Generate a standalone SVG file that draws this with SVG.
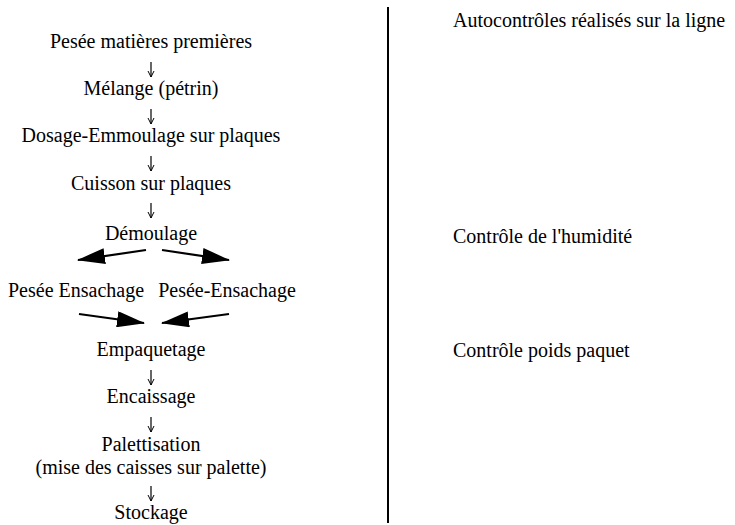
<svg xmlns="http://www.w3.org/2000/svg" width="735" height="525" viewBox="0 0 735 525">
<defs>
<marker id="sm" viewBox="0 0 8 8" refX="7" refY="4" markerWidth="8" markerHeight="8" markerUnits="userSpaceOnUse" orient="auto"><path d="M1,1 L7,4 L1,7" fill="none" stroke="#000" stroke-width="1"/></marker>
<marker id="big" viewBox="0 0 28 16" refX="27" refY="8" markerWidth="28" markerHeight="16" markerUnits="userSpaceOnUse" orient="auto"><path d="M0,0 L28,8 L0,16 Z" fill="#000"/></marker>
</defs>
<rect width="735" height="525" fill="#fff"/>
<g id="connectors" fill="none" stroke="#000">
<g stroke-width="1.2">
<line x1="151" y1="62" x2="151" y2="77" marker-end="url(#sm)"/>
<line x1="151" y1="109" x2="151" y2="124" marker-end="url(#sm)"/>
<line x1="151" y1="156" x2="151" y2="171" marker-end="url(#sm)"/>
<line x1="151" y1="203" x2="151" y2="218" marker-end="url(#sm)"/>
<line x1="151" y1="370" x2="151" y2="385" marker-end="url(#sm)"/>
<line x1="151" y1="417" x2="151" y2="432" marker-end="url(#sm)"/>
<line x1="151" y1="486" x2="151" y2="501" marker-end="url(#sm)"/>
</g>
<g stroke-width="2.2">
<line x1="146" y1="250" x2="78" y2="260" marker-end="url(#big)"/>
<line x1="162" y1="250" x2="229" y2="260" marker-end="url(#big)"/>
<line x1="79" y1="314" x2="144" y2="323" marker-end="url(#big)"/>
<line x1="229" y1="314" x2="162" y2="323" marker-end="url(#big)"/>
</g>
</g>
<g id="divider"><line x1="388" y1="7" x2="388" y2="523" stroke="#000" stroke-width="2"/></g>
<g id="n1"><text x="151" y="48" text-anchor="middle" font-family="'Liberation Serif', serif" font-size="20">Pesée matières premières</text></g>
<g id="n2"><text x="151" y="95" text-anchor="middle" font-family="'Liberation Serif', serif" font-size="20">Mélange (pétrin)</text></g>
<g id="n3"><text x="151" y="142" text-anchor="middle" font-family="'Liberation Serif', serif" font-size="20">Dosage-Emmoulage sur plaques</text></g>
<g id="n4"><text x="151" y="190" text-anchor="middle" font-family="'Liberation Serif', serif" font-size="20">Cuisson sur plaques</text></g>
<g id="n5"><text x="151" y="240" text-anchor="middle" font-family="'Liberation Serif', serif" font-size="20">Démoulage</text></g>
<g id="n6"><text x="76" y="297" text-anchor="middle" font-family="'Liberation Serif', serif" font-size="20">Pesée Ensachage</text></g>
<g id="n7"><text x="227" y="297" text-anchor="middle" font-family="'Liberation Serif', serif" font-size="20">Pesée-Ensachage</text></g>
<g id="n8"><text x="151" y="356" text-anchor="middle" font-family="'Liberation Serif', serif" font-size="20">Empaquetage</text></g>
<g id="n9"><text x="151" y="403" text-anchor="middle" font-family="'Liberation Serif', serif" font-size="20">Encaissage</text></g>
<g id="n10"><text x="151" y="451" text-anchor="middle" font-family="'Liberation Serif', serif" font-size="20">Palettisation</text><text x="151" y="474" text-anchor="middle" font-family="'Liberation Serif', serif" font-size="20">(mise des caisses sur palette)</text></g>
<g id="n11"><text x="151" y="519" text-anchor="middle" font-family="'Liberation Serif', serif" font-size="20">Stockage</text></g>
<g id="r1"><text x="453" y="27" font-family="'Liberation Serif', serif" font-size="20">Autocontrôles réalisés sur la ligne</text></g>
<g id="r2"><text x="453" y="243" font-family="'Liberation Serif', serif" font-size="20">Contrôle de l'humidité</text></g>
<g id="r3"><text x="453" y="357" font-family="'Liberation Serif', serif" font-size="20">Contrôle poids paquet</text></g>
</svg>
